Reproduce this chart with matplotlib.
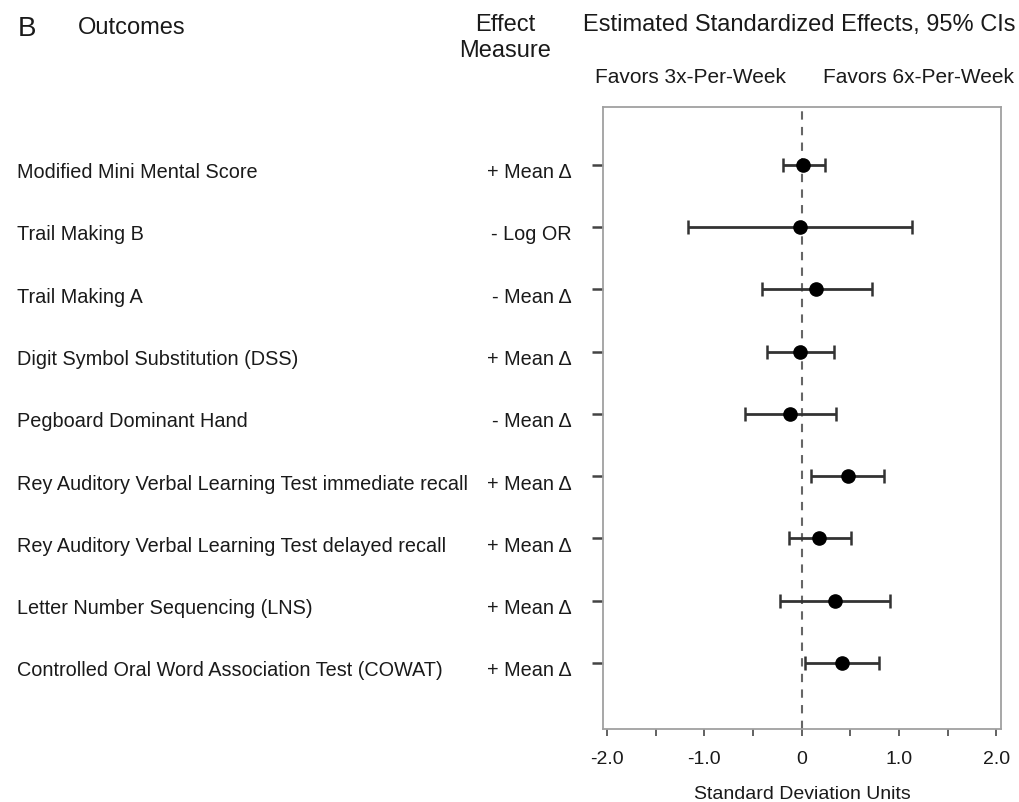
import matplotlib.pyplot as plt
from matplotlib.transforms import blended_transform_factory

plt.rcParams['font.family'] = ['Liberation Sans', 'DejaVu Sans']

# --- data ---
outcomes = [
    'Modified Mini Mental Score',
    'Trail Making B',
    'Trail Making A',
    'Digit Symbol Substitution (DSS)',
    'Pegboard Dominant Hand',
    'Rey Auditory Verbal Learning Test immediate recall',
    'Rey Auditory Verbal Learning Test delayed recall',
    'Letter Number Sequencing (LNS)',
    'Controlled Oral Word Association Test (COWAT)',
]
measures = ['+ Mean \u0394', '- Log OR', '- Mean \u0394', '+ Mean \u0394', '- Mean \u0394',
            '+ Mean \u0394', '+ Mean \u0394', '+ Mean \u0394', '+ Mean \u0394']
estimate = [0.02, -0.02, 0.15, -0.02, -0.12, 0.48, 0.18, 0.34, 0.42]
ci_low = [-0.19, -1.17, -0.41, -0.36, -0.58, 0.10, -0.13, -0.22, 0.04]
ci_high = [0.24, 1.14, 0.72, 0.33, 0.35, 0.85, 0.51, 0.91, 0.80]

rows = list(range(1, len(outcomes) + 1))
err_lo = [e - l for e, l in zip(estimate, ci_low)]
err_hi = [h - e for e, h in zip(estimate, ci_high)]

fig = plt.figure(figsize=(10.2, 8.03), dpi=100)
ax = fig.add_axes([0.5912, 0.0909, 0.3902, 0.7746])

ax.axvline(0, color='#666666', lw=1.5, linestyle=(0, (4, 3.5)), zorder=1)
ax.errorbar(estimate, rows, xerr=[err_lo, err_hi], fmt='o', color='black',
            ecolor='#333333', elinewidth=2, capsize=5, capthick=1.8,
            markersize=9.5, zorder=3)

ax.set_xlim(-2.04, 2.05)
ax.set_ylim(10.06, 0.074)
ax.set_xticks([-2, -1, 0, 1, 2])
ax.set_xticklabels(['-2.0', '-1.0', '0', '1.0', '2.0'])
ax.set_xticks([-1.5, -0.5, 0.5, 1.5], minor=True)
ax.set_yticks(rows)
ax.set_yticklabels([])

ax.tick_params(axis='x', which='both', direction='out', length=5, width=1.3,
               color='#555555', labelsize=14, labelcolor='#1a1a1a', pad=10)
ax.tick_params(axis='y', direction='out', length=8, width=1.8, color='#444444')
for s in ax.spines.values():
    s.set_color('#a0a0a0')
    s.set_linewidth(1.3)

ax.set_xlabel('Standard Deviation Units', fontsize=14, color='#1a1a1a', labelpad=13)

# row labels in two columns left of the plot
tr = blended_transform_factory(fig.transFigure, ax.transData)
for r, name, m in zip(rows, outcomes, measures):
    ax.text(17 / 1020, r + 0.2, name, transform=tr, ha='left', va='baseline',
            fontsize=14.3, color='#1a1a1a')
    ax.text(572 / 1020, r + 0.2, m, transform=tr, ha='right', va='baseline',
            fontsize=14.3, color='#1a1a1a')

# headers
W, H = 1020, 803
fig.text(18 / W, 1 - 36 / H, 'B', fontsize=20, color='#1a1a1a', va='baseline')
fig.text(78 / W, 1 - 34 / H, 'Outcomes', fontsize=17, color='#1a1a1a', va='baseline')
fig.text(505 / W, 1 - 31 / H, 'Effect', fontsize=17, color='#1a1a1a', ha='center', va='baseline')
fig.text(505 / W, 1 - 57 / H, 'Measure', fontsize=17, color='#1a1a1a', ha='center', va='baseline')
fig.text(583 / W, 1 - 31 / H, 'Estimated Standardized Effects, 95% CIs', fontsize=17,
         color='#1a1a1a', va='baseline')
fig.text(595 / W, 1 - 83 / H, 'Favors 3x-Per-Week', fontsize=15, color='#1a1a1a', va='baseline')
fig.text(823 / W, 1 - 83 / H, 'Favors 6x-Per-Week', fontsize=15, color='#1a1a1a', va='baseline')

plt.savefig('out.png', dpi=100)
